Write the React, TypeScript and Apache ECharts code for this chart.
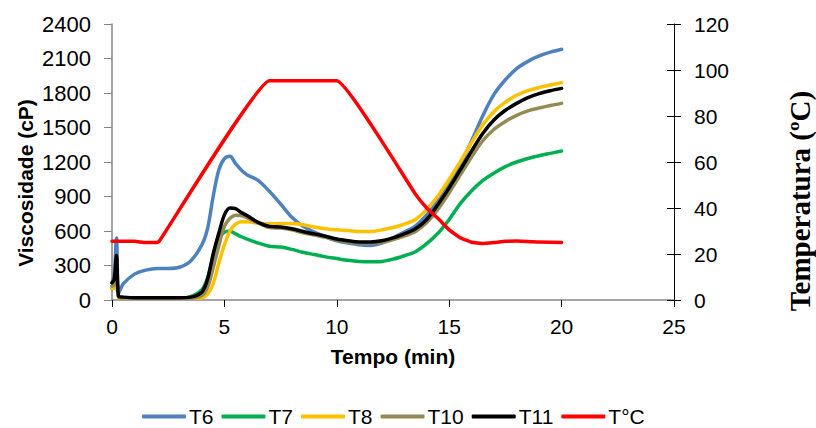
import React, { useEffect, useRef } from "react";
import * as echarts from "echarts";

const tempo = [0, 0.1, 0.2, 0.3, 0.5, 1, 1.5, 2, 2.5, 3, 3.5, 4, 4.25, 4.5, 4.75, 5, 5.25, 5.5, 5.75, 6, 6.5, 7, 7.5, 8, 8.5, 9, 9.5, 10, 10.5, 11, 11.5, 12, 12.5, 13, 13.5, 14, 14.5, 15, 15.5, 16, 16.5, 17, 17.5, 18, 18.5, 19, 19.5, 20];

const t6 = [150, 220, 540, 60, 140, 225, 260, 275, 275, 285, 340, 480, 620, 900, 1130, 1230, 1250, 1185, 1130, 1090, 1040, 945, 835, 720, 640, 590, 550, 515, 495, 480, 475, 495, 540, 590, 645, 740, 860, 1020, 1180, 1385, 1605, 1790, 1915, 2012, 2075, 2122, 2155, 2180];
const t7 = [100, 110, 150, 25, 15, 15, 15, 15, 15, 15, 30, 90, 190, 380, 530, 590, 598, 575, 550, 530, 495, 468, 460, 440, 415, 395, 375, 360, 345, 335, 332, 335, 355, 385, 420, 490, 580, 700, 840, 950, 1040, 1105, 1160, 1200, 1230, 1255, 1275, 1295];
const t8 = [100, 110, 130, 20, 15, 15, 15, 15, 15, 15, 15, 20, 50, 140, 320, 480, 600, 660, 680, 680, 668, 662, 665, 665, 655, 635, 620, 610, 605, 595, 595, 610, 630, 660, 700, 788, 905, 1050, 1205, 1370, 1525, 1640, 1720, 1780, 1820, 1848, 1870, 1890];
const t10 = [120, 130, 180, 25, 18, 18, 18, 18, 18, 18, 18, 40, 110, 280, 470, 640, 710, 738, 735, 715, 670, 630, 625, 610, 585, 565, 545, 520, 505, 495, 495, 500, 525, 555, 595, 673, 790, 933, 1090, 1245, 1387, 1485, 1553, 1606, 1645, 1670, 1692, 1710];
const t11 = [150, 180, 390, 30, 25, 20, 20, 20, 20, 20, 25, 70, 180, 400, 580, 740, 800, 795, 760, 735, 675, 640, 635, 620, 595, 575, 555, 530, 515, 505, 505, 515, 540, 575, 620, 700, 830, 975, 1133, 1297, 1450, 1568, 1650, 1710, 1760, 1795, 1820, 1840];

const tempoTemp = [0, 1, 1.5, 2, 2.1, 7, 7.5, 10, 13.5, 14, 14.5, 15, 15.5, 16, 16.5, 17, 17.5, 18, 19, 20];
const temperatura = [25.5, 25.5, 25, 25, 25.5, 95.3, 95.3, 95.3, 46, 40, 35.5, 30.5, 27, 25.1, 24.6, 25, 25.5, 25.6, 25.2, 25];

const xTicks = { min: 0, max: 25, interval: 5 };
const yLeftTicks = { min: 0, max: 2400, interval: 300 };
const yRightTicks = { min: 0, max: 120, interval: 20 };

const seriesNames = ["T6", "T7", "T8", "T10", "T11"];
const seriesValues = [t6, t7, t8, t10, t11];
const seriesColors = ["#4F81BD", "#00B050", "#FFC000", "#948A54", "#000000"];

const zip = (xs: number[], ys: number[]) => xs.map((x, i) => [x, ys[i]]);

export default function App() {
  const ref = useRef<HTMLDivElement>(null);
  useEffect(() => {
    if (!ref.current) return;
    const chart = echarts.init(ref.current, undefined, { renderer: "svg" });
    const font = "Liberation Sans";
    const plain = (v: number) => String(v);
    const lineSeries: any[] = seriesNames.map((n, i) => ({
      name: n,
      type: "line",
      data: zip(tempo, seriesValues[i]),
      yAxisIndex: 0,
      showSymbol: false,
      symbol: "none",
      smooth: 0.3,
      lineStyle: { width: 3.5, color: seriesColors[i], cap: "round", join: "round" },
      itemStyle: { color: seriesColors[i] },
    }));
    lineSeries.push({
      name: "T°C",
      type: "line",
      data: zip(tempoTemp, temperatura),
      yAxisIndex: 1,
      showSymbol: false,
      symbol: "none",
      smooth: 0.1,
      lineStyle: { width: 3.5, color: "#FF0000", cap: "round", join: "round" },
      itemStyle: { color: "#FF0000" },
    });
    chart.setOption({
      animation: false,
      backgroundColor: "#fff",
      grid: { left: 112, right: 142, top: 24, bottom: 128 },
      legend: {
        data: ["T6", "T7", "T8", "T10", "T11", "T°C"],
        left: 137,
        top: 401,
        icon: "roundRect",
        itemWidth: 44,
        itemHeight: 4,
        itemGap: 8,
        textStyle: { fontFamily: font, fontSize: 21, color: "#000", padding: [0, 0, 0, -2] },
      },
      xAxis: {
        type: "value",
        ...xTicks,
        name: "Tempo (min)",
        nameLocation: "middle",
        nameGap: 46,
        nameTextStyle: { fontFamily: font, fontSize: 21, fontWeight: "bold", color: "#000" },
        axisLine: { show: true, onZero: false, lineStyle: { color: "#868686", width: 1.5 } },
        axisTick: { show: true, inside: false, length: 7, lineStyle: { color: "#000" } },
        axisLabel: { fontFamily: font, fontSize: 21, color: "#000", margin: 16, formatter: plain },
        splitLine: { show: false },
      },
      yAxis: [
        {
          type: "value",
          ...yLeftTicks,
          position: "left",
          axisLine: { show: true, lineStyle: { color: "#868686", width: 1.5 } },
          axisTick: { show: true, length: 8, lineStyle: { color: "#868686" } },
          axisLabel: { fontFamily: font, fontSize: 22, color: "#000", margin: 21, formatter: plain },
          splitLine: { show: false },
        },
        {
          type: "value",
          ...yRightTicks,
          position: "right",
          axisLine: { show: true, lineStyle: { color: "#000", width: 1 } },
          axisTick: { show: true, length: 7, lineStyle: { color: "#000" } },
          axisLabel: { fontFamily: font, fontSize: 21, color: "#000", margin: 20, formatter: plain },
          splitLine: { show: false },
        },
        {
          type: "value",
          ...yRightTicks,
          position: "right",
          axisLine: { show: false },
          axisTick: { show: true, inside: true, length: 7, lineStyle: { color: "#000" } },
          axisLabel: { show: false },
          splitLine: { show: false },
        },
      ],
      graphic: [
        {
          type: "text",
          x: 25,
          y: 183,
          rotation: Math.PI / 2,
          style: {
            text: "Viscosidade (cP)",
            fontFamily: font,
            fontSize: 21,
            fontWeight: "bold",
            fill: "#000",
            align: "center",
            verticalAlign: "middle",
          },
        },
        {
          type: "text",
          x: 800,
          y: 201,
          rotation: Math.PI / 2,
          style: {
            text: "Temperatura (ºC)",
            fontFamily: "Liberation Serif",
            fontSize: 29,
            fontWeight: "bold",
            fill: "#000",
            align: "center",
            verticalAlign: "middle",
          },
        },
      ],
      series: lineSeries,
    });
    return () => chart.dispose();
  }, []);
  return (
    <div
      ref={ref}
      style={{ position: "fixed", left: 0, top: 0, width: 816, height: 428 }}
    />
  );
}
